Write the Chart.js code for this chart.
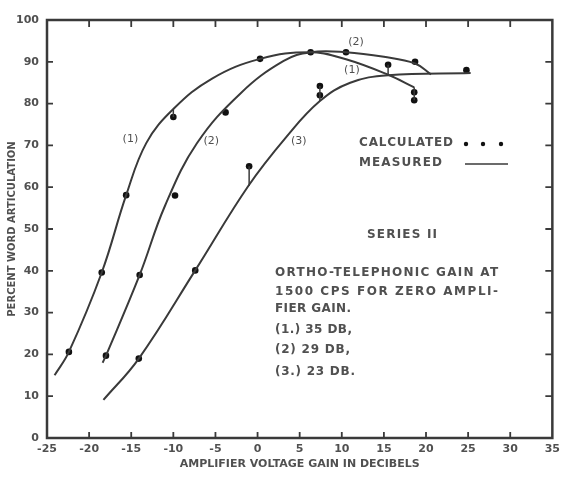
<!DOCTYPE html>
<html>
<head>
<meta charset="utf-8">
<script src="https://cdn.jsdelivr.net/npm/chart.js@4.4.0/dist/chart.umd.min.js"></script>
<style>
  html, body { margin: 0; padding: 0; background: #fff; }
</style>
</head>
<body>
<canvas id="myChart" width="565" height="479"></canvas>
<script>
// axis ticks
let xTicks = [-25, -20, -15, -10, -5, 0, 5, 10, 15, 20, 25, 30, 35];
let yTicks = [0, 10, 20, 30, 40, 50, 60, 70, 80, 90, 100];

// measured curves, [gain dB, percent]
let measured1 = [[-24.1, 15], [-22.4, 20.6], [-18.5, 39.6], [-15.6, 58.1], [-13.2, 70.6],
                 [-10, 78.7], [-5.4, 86], [0.3, 90.7], [6.3, 92.3], [10.5, 90.6], [15.5, 86.9], [18.6, 83.9]];
let measured2 = [[-18.4, 18], [-18, 19.7], [-14, 39], [-11, 55.5], [-7.2, 70.5], [-2, 82.5], [3.1, 90.2],
                 [6.3, 92.3], [10.5, 92.3], [15, 91.2], [18.7, 89.6], [20.6, 87]];
let measured3 = [[-18.3, 9.1], [-14.1, 19], [-7.4, 40.1], [-1.1, 60.3], [3.4, 72], [7.4, 80.6],
                 [11, 85], [15.5, 86.8], [25.3, 87.3]];

// calculated points
let calculated1 = [[-22.4, 20.6], [-18.5, 39.6], [-15.6, 58.1], [-10, 76.8], [0.3, 90.7], [6.3, 92.3],
                   [15.5, 89.3], [18.6, 82.7], [18.6, 80.8]];
let calculated2 = [[-18, 19.7], [-14, 39], [-9.8, 58], [-3.8, 77.9], [10.5, 92.3], [18.7, 90]];
let calculated3 = [[-14.1, 19], [-7.4, 40.1], [-1, 65], [7.4, 84.2], [7.4, 82], [24.8, 88]];

// short vertical strokes from a calculated point to its curve: [x, from, to]
let leaders = [[-10, 76.8, 78.7], [15.5, 89.3, 86.9], [18.6, 80.8, 83.9], [-1, 65, 60.3], [7.4, 84.2, 80.6]];

// curve labels: [text, x, y]
let curveLabels = [['(1)', -15.1, 71.6], ['(2)', -5.5, 71.1], ['(3)', 4.9, 71.1], ['(2)', 11.7, 94.6], ['(1)', 11.2, 88.1]];

const ink = '#3a3a3a';
const textInk = '#505050';

function toPoints(list) {
    return list.map(p => ({x: p[0], y: p[1]}));
}

function curve(list) {
    return {
        data: toPoints(list),
        showLine: true,
        borderColor: ink,
        borderWidth: 2,
        pointRadius: 0,
        tension: 0.4
    };
}

let datasets = [curve(measured1), curve(measured2), curve(measured3)];

leaders.forEach(l => {
    datasets.push({
        data: [{x: l[0], y: l[1]}, {x: l[0], y: l[2]}],
        showLine: true,
        borderColor: ink,
        borderWidth: 1.5,
        pointRadius: 0
    });
});

datasets.push({
    data: toPoints(calculated1.concat(calculated2, calculated3)),
    showLine: false,
    pointRadius: 3.3,
    pointBackgroundColor: '#111',
    pointBorderWidth: 0
});

// stretch lettering to the width it has in the picture
function fitText(ctx, text, x, y, width) {
    ctx.letterSpacing = '0px';
    let w = ctx.measureText(text).width;
    let sp = (width - w) / (text.length - 1);
    ctx.letterSpacing = sp.toFixed(2) + 'px';
    ctx.fillText(text, x, y);
    ctx.letterSpacing = '0px';
}

const frameAndText = {
    id: 'frameAndText',
    afterDraw(chart) {
        const ctx = chart.ctx;
        const a = chart.chartArea;
        const xs = chart.scales.x;
        const ys = chart.scales.y;
        ctx.save();
        ctx.strokeStyle = ink;
        ctx.lineWidth = 2.5;
        ctx.strokeRect(a.left, a.top, a.right - a.left, a.bottom - a.top);

        // inward tick marks on all four sides
        ctx.lineWidth = 1.8;
        ctx.beginPath();
        xTicks.slice(1, -1).forEach(v => {
            let px = xs.getPixelForValue(v);
            ctx.moveTo(px, a.bottom); ctx.lineTo(px, a.bottom - 6);
            ctx.moveTo(px, a.top); ctx.lineTo(px, a.top + 7);
        });
        yTicks.slice(1, -1).forEach(v => {
            let py = ys.getPixelForValue(v);
            ctx.moveTo(a.left, py); ctx.lineTo(a.left + 6, py);
            ctx.moveTo(a.right, py); ctx.lineTo(a.right - 7, py);
        });
        ctx.stroke();

        ctx.fillStyle = textInk;
        ctx.textBaseline = 'middle';

        // curve labels
        ctx.font = '11px "DejaVu Sans"';
        ctx.textAlign = 'center';
        curveLabels.forEach(l => {
            ctx.fillText(l[0], xs.getPixelForValue(l[1]), ys.getPixelForValue(l[2]));
        });

        // key
        ctx.textAlign = 'left';
        ctx.font = 'bold 12px "DejaVu Sans"';
        fitText(ctx, 'CALCULATED', 359, 143, 94);
        fitText(ctx, 'MEASURED', 359, 163, 83);
        ctx.fillStyle = '#111';
        [466, 483, 501].forEach(px => {
            ctx.beginPath();
            ctx.arc(px, 144, 2.2, 0, Math.PI * 2);
            ctx.fill();
        });
        ctx.lineWidth = 1.6;
        ctx.beginPath();
        ctx.moveTo(465, 164); ctx.lineTo(508, 164);
        ctx.stroke();

        // notes
        ctx.fillStyle = textInk;
        fitText(ctx, 'SERIES II', 367, 235, 70);
        fitText(ctx, 'ORTHO-TELEPHONIC GAIN AT', 275, 273, 223);
        fitText(ctx, '1500 CPS FOR ZERO AMPLI-', 275, 292, 223);
        fitText(ctx, 'FIER GAIN.', 275, 309, 76);
        fitText(ctx, '(1.) 35 DB,', 275, 330, 77);
        fitText(ctx, '(2) 29 DB,', 275, 350, 75);
        fitText(ctx, '(3.) 23 DB.', 275, 372, 80);
        ctx.restore();
    }
};

const ctx = document.getElementById('myChart').getContext('2d');
let myChart = new Chart(ctx, {
    type: 'scatter',
    data: { datasets: datasets },
    plugins: [frameAndText],
    options: {
        responsive: false,
        animation: false,
        layout: { padding: { left: 4, right: 7, top: 20, bottom: 0 } },
        plugins: { legend: { display: false }, tooltip: { enabled: false } },
        scales: {
            x: {
                type: 'linear',
                min: -25,
                max: 35,
                afterBuildTicks: s => { s.ticks = xTicks.map(v => ({value: v})); },
                afterFit: s => { s.height = 41; },
                grid: { display: false, drawTicks: false },
                border: { display: false },
                ticks: { padding: 5, color: textInk, font: { family: 'DejaVu Sans', size: 11, weight: 'bold' }, maxRotation: 0 },
                title: {
                    display: true,
                    text: 'AMPLIFIER VOLTAGE GAIN IN DECIBELS',
                    color: textInk,
                    font: { family: 'DejaVu Sans', size: 11, weight: 'bold' },
                    padding: { top: 8, bottom: 8 }
                }
            },
            y: {
                type: 'linear',
                min: 0,
                max: 100,
                afterBuildTicks: s => { s.ticks = yTicks.map(v => ({value: v})); },
                afterFit: s => { s.width = 43; },
                grid: { display: false, drawTicks: false },
                border: { display: false },
                ticks: { padding: 8, color: textInk, font: { family: 'DejaVu Sans', size: 11, weight: 'bold' } },
                title: {
                    display: true,
                    text: 'PERCENT WORD ARTICULATION',
                    color: textInk,
                    font: { family: 'DejaVu Sans', size: 10, weight: 'bold' },
                    padding: { top: 2, bottom: 2 }
                }
            }
        }
    }
});
</script>
</body>
</html>
